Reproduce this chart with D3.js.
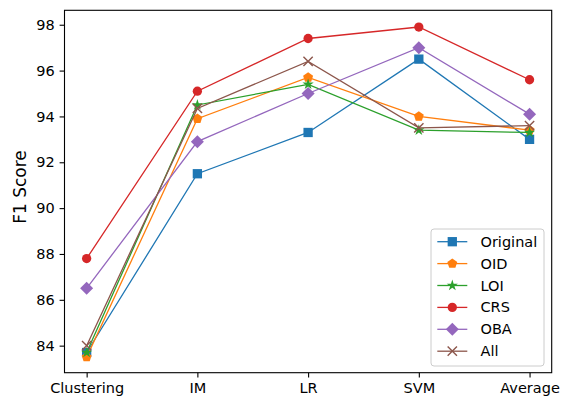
<!DOCTYPE html>
<html>
<head>
<meta charset="utf-8">
<script src="https://cdn.jsdelivr.net/npm/d3@7"></script>
<style>
body { margin: 0; background: #fff; }
text { font-family: "DejaVu Sans", sans-serif; fill: #000; }
</style>
</head>
<body>
<svg id="chart" width="561" height="399"></svg>
<script>
// data
var categories = ["Clustering", "IM", "LR", "SVM", "Average"];
var yTicks = [84, 86, 88, 90, 92, 94, 96, 98];
var seriesNames = ["Original", "OID", "LOI", "CRS", "OBA", "All"];
var original = [83.7, 91.5, 93.3, 96.5, 93.0];
var oid      = [83.5, 93.9, 95.7, 94.0, 93.4];
var loi      = [83.7, 94.5, 95.4, 93.4, 93.3];
var crs      = [87.8, 95.1, 97.4, 97.9, 95.6];
var oba      = [86.5, 92.9, 95.0, 97.0, 94.1];
var all      = [84.0, 94.35, 96.4, 93.5, 93.6];

var colors  = ["#1f77b4", "#ff7f0e", "#2ca02c", "#d62728", "#9467bd", "#8c564b"];
var markers = ["square", "pentagon", "star", "circle", "diamond", "cross"];

var series = [original, oid, loi, crs, oba, all].map(function(v, i) {
	return { name: seriesNames[i], values: v, color: colors[i], marker: markers[i] };
});

var svg = d3.select("#chart");
// plot area (window.top is read-only, hence the p prefix)
var pLeft = 64.5, pRight = 551.7, pTop = 10.3, pBottom = 372.7;
var fontTick = "14.5px";
var mSize = 9.3;

var x = d3.scaleLinear().domain([-0.2, 4.2]).range([pLeft, pRight]);
var y = d3.scaleLinear().domain([82.82, 98.63]).range([pBottom, pTop]);

// pentagon symbol, pointing up
var symbolPentagon = {
	draw: function(ctx, size) {
		var r = Math.sqrt(size / 2.378);
		for (var i = 0; i < 5; i++) {
			var a = -Math.PI/2 + i * 2 * Math.PI / 5;
			if (i == 0) ctx.moveTo(r*Math.cos(a), r*Math.sin(a));
			else ctx.lineTo(r*Math.cos(a), r*Math.sin(a));
		}
		ctx.closePath();
	}
};

function drawMarker(g, type, color, s) {
	switch (type) {
	case "square":
		g.append("rect").attr("x", -s/2).attr("y", -s/2).attr("width", s).attr("height", s)
			.attr("fill", color);
		break;
	case "circle":
		g.append("circle").attr("r", s/2).attr("fill", color);
		break;
	case "pentagon":
		g.append("path").attr("d", d3.symbol(symbolPentagon, s*s*0.75)())
			.attr("fill", color);
		break;
	case "star":
		g.append("path").attr("d", d3.symbol(d3.symbolStar, s*s*0.45)())
			.attr("fill", color);
		break;
	case "diamond":
		var d = s*0.7;
		g.append("path").attr("d", "M0," + (-d) + "L" + d + ",0L0," + d + "L" + (-d) + ",0Z")
			.attr("fill", color);
		break;
	case "cross":
		var c = s/2;
		g.append("path").attr("d", "M" + (-c) + "," + (-c) + "L" + c + "," + c + "M" + (-c) + "," + c + "L" + c + "," + (-c))
			.attr("stroke", color).attr("stroke-width", 1.4).attr("fill", "none");
		break;
	}
}

// axes
var gx = svg.append("g").attr("transform", "translate(0," + pBottom + ")")
	.call(d3.axisBottom(x).tickValues([0,1,2,3,4]).tickFormat(function(i) { return categories[i]; })
		.tickSize(4.9).tickPadding(5.5));
var gy = svg.append("g").attr("transform", "translate(" + pLeft + ",0)")
	.call(d3.axisLeft(y).tickValues(yTicks).tickSize(4.9).tickPadding(4.9));
[gx, gy].forEach(function(g) {
	g.select(".domain").remove();
	g.selectAll("line").attr("stroke", "#000").attr("stroke-width", 1.1);
	g.selectAll("text").attr("font-size", fontTick).attr("font-family", "DejaVu Sans").attr("fill", "#000");
});

// lines and markers
var line = d3.line().x(function(d, i) { return x(i); }).y(function(d) { return y(d); });
series.forEach(function(s) {
	var g = svg.append("g");
	g.append("path").datum(s.values).attr("d", line)
		.attr("fill", "none").attr("stroke", s.color).attr("stroke-width", 1.3);
	s.values.forEach(function(v, i) {
		var m = g.append("g").attr("transform", "translate(" + x(i) + "," + y(v) + ")");
		drawMarker(m, s.marker, s.color, mSize);
	});
});

// frame
svg.append("rect").attr("x", pLeft).attr("y", pTop).attr("width", pRight - pLeft).attr("height", pBottom - pTop)
	.attr("fill", "none").attr("stroke", "#000").attr("stroke-width", 1.1);

// y label
svg.append("text").attr("transform", "translate(26,187) rotate(-90)")
	.attr("text-anchor", "middle").attr("font-size", "17px").text("F1 Score");

// legend
var lg = svg.append("g").attr("transform", "translate(431,229)");
lg.append("rect").attr("width", 113).attr("height", 137).attr("rx", 3)
	.attr("fill", "#fff").attr("fill-opacity", 0.8).attr("stroke", "#ccc").attr("stroke-width", 1);
series.forEach(function(s, i) {
	var yy = 12.7 + i * 21.9;
	lg.append("line").attr("x1", 6.3).attr("x2", 36.3).attr("y1", yy).attr("y2", yy)
		.attr("stroke", s.color).attr("stroke-width", 1.3);
	var m = lg.append("g").attr("transform", "translate(21.3," + yy + ")");
	drawMarker(m, s.marker, s.color, mSize);
	lg.append("text").attr("x", 49.5).attr("y", yy).attr("dy", "0.35em")
		.attr("font-size", fontTick).text(s.name);
});
</script>
</body>
</html>
